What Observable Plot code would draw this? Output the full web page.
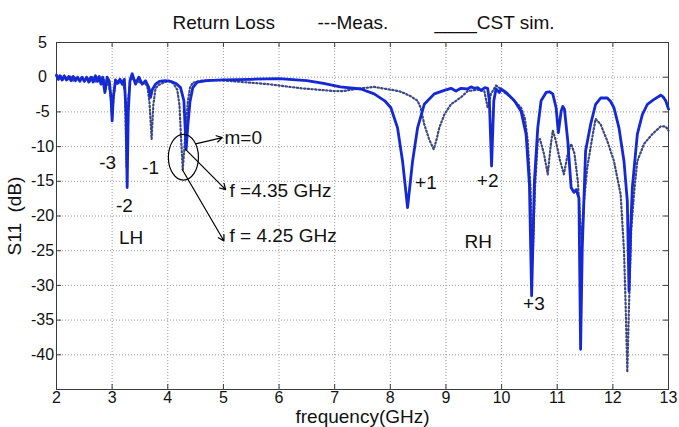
<!DOCTYPE html>
<html><head><meta charset="utf-8">
<script src="https://cdn.jsdelivr.net/npm/d3@7"></script>
<script src="https://cdn.jsdelivr.net/npm/@observablehq/plot@0.6"></script>
<style>
html,body{margin:0;padding:0;background:#fff;}
</style>
</head><body><div id="chart"></div>
<script>
// ---- Data (frequency in GHz, S11 in dB) ----
const simF = [2.00,2.03,2.06,2.10,2.14,2.18,2.22,2.26,2.30,2.34,2.38,2.42,2.46,2.50,2.54,2.58,2.62,2.66,2.70,2.74,2.77,2.80,2.83,2.87,2.91,2.95,2.98,3.00,3.02,3.06,3.10,3.14,3.18,3.22,3.25,3.27,3.29,3.32,3.36,3.42,3.48,3.54,3.60,3.66,3.69,3.72,3.78,3.85,3.95,4.05,4.15,4.23,4.29,4.33,4.36,4.40,4.45,4.53,4.70,5.00,5.50,6.00,6.50,6.80,7.10,7.47,7.71,7.90,8.01,8.13,8.22,8.31,8.40,8.49,8.61,8.79,8.97,9.09,9.18,9.27,9.39,9.45,9.51,9.57,9.63,9.70,9.75,9.78,9.82,9.86,9.90,9.96,9.99,10.05,10.11,10.23,10.35,10.44,10.50,10.54,10.59,10.65,10.71,10.80,10.86,10.92,10.98,11.02,11.07,11.10,11.13,11.19,11.25,11.30,11.34,11.39,11.42,11.45,11.51,11.60,11.69,11.78,11.90,11.96,12.02,12.11,12.20,12.26,12.29,12.32,12.35,12.44,12.53,12.62,12.74,12.86,12.90,12.95,13.00];
const simDb = [0.3,-0.3,0.2,-0.4,0.2,-0.4,0.1,-0.5,0.1,-0.5,0.0,-0.6,0.0,-0.6,0.0,-0.7,0.0,-0.7,0.2,-0.6,0.1,-1.0,0.0,-2.2,0.0,-0.6,-3.0,-6.3,-3.0,-0.4,-0.9,-0.3,-1.0,-0.3,-5.0,-15.9,-5.0,-0.5,0.5,-1.0,0.0,-1.0,-0.5,-1.5,-2.9,-1.8,-1.0,-0.6,-0.5,-0.6,-0.9,-1.5,-3.4,-10.4,-7.0,-3.5,-1.5,-0.7,-0.5,-0.4,-0.3,-0.2,-0.5,-0.9,-1.4,-1.7,-2.4,-3.4,-4.4,-7.3,-12.1,-18.8,-12.1,-7.3,-3.9,-2.4,-1.9,-1.6,-2.0,-1.6,-1.7,-1.4,-1.6,-1.5,-1.9,-1.5,-1.6,-3.4,-12.8,-3.4,-1.7,-2.2,-1.7,-2.0,-2.4,-3.4,-4.9,-8.2,-15.4,-31.5,-15.0,-7.3,-3.4,-2.2,-2.1,-2.4,-4.4,-8.0,-4.9,-4.2,-4.6,-9.2,-15.9,-16.6,-16.2,-17.4,-39.2,-24.6,-10.6,-6.8,-3.9,-3.0,-3.0,-3.5,-4.4,-7.3,-12.1,-17.9,-30.8,-22.0,-15.9,-8.2,-5.4,-3.9,-3.2,-2.6,-2.8,-3.4,-4.6];

const measF = [2.00,2.04,2.08,2.12,2.16,2.20,2.25,2.30,2.35,2.40,2.45,2.50,2.55,2.60,2.65,2.70,2.75,2.80,2.85,2.88,2.92,2.97,3.00,3.03,3.07,3.12,3.18,3.23,3.26,3.29,3.33,3.38,3.45,3.52,3.58,3.63,3.67,3.71,3.74,3.78,3.84,3.92,4.02,4.10,4.17,4.21,4.24,4.27,4.31,4.36,4.40,4.45,4.60,4.90,5.20,5.50,5.80,6.10,6.40,6.70,7.00,7.15,7.30,7.47,7.60,7.71,7.85,8.01,8.15,8.25,8.38,8.49,8.55,8.61,8.70,8.78,8.83,8.88,8.97,9.09,9.18,9.27,9.39,9.48,9.57,9.69,9.75,9.81,9.90,9.97,10.05,10.15,10.23,10.35,10.42,10.47,10.52,10.56,10.60,10.65,10.69,10.76,10.83,10.88,10.92,10.97,11.05,11.12,11.19,11.25,11.31,11.37,11.41,11.44,11.48,11.54,11.64,11.69,11.78,11.90,12.02,12.14,12.20,12.23,12.26,12.29,12.33,12.39,12.44,12.56,12.71,12.86,12.95,13.00];
const measDb = [0.2,-0.3,0.2,-0.4,0.1,-0.4,0.1,-0.5,0.0,-0.5,0.0,-0.6,0.0,-0.6,0.0,-0.7,0.0,-0.9,-0.2,-1.8,-0.3,-2.5,-5.8,-2.5,-0.5,-0.8,-0.5,-2.0,-13.0,-3.0,-0.3,-0.2,-0.6,-0.8,-0.9,-1.2,-3.5,-8.9,-4.0,-1.6,-1.1,-0.8,-0.5,-0.9,-1.8,-4.0,-9.0,-13.3,-9.0,-3.5,-1.5,-0.8,-0.5,-0.4,-0.6,-0.8,-1.0,-1.3,-1.6,-1.8,-2.0,-2.0,-1.8,-1.6,-1.5,-1.4,-1.6,-1.8,-2.0,-2.3,-2.8,-3.4,-4.5,-6.8,-9.0,-10.4,-9.0,-7.3,-5.4,-3.9,-3.4,-2.9,-2.0,-1.9,-1.8,-2.0,-4.4,-2.4,-1.2,-1.6,-2.2,-2.8,-3.4,-4.4,-6.0,-9.2,-16.0,-26.0,-16.0,-9.2,-8.9,-11.0,-14.0,-10.0,-7.7,-9.0,-12.0,-14.0,-11.0,-9.6,-11.0,-15.0,-20.0,-24.0,-18.0,-13.0,-8.2,-6.0,-6.8,-9.2,-12.1,-16.9,-25.0,-33.0,-42.5,-33.0,-22.0,-15.9,-12.1,-9.6,-8.2,-7.1,-7.1,-7.7];

const xTicks = [2,3,4,5,6,7,8,9,10,11,12,13];
const yTicks = [5,0,-5,-10,-15,-20,-25,-30,-35,-40];

// annotation labels
const annText = ["-3","-2","-1","LH","RH","+1","+2","+3"];
const annF =    [2.92,3.22,3.69,3.34,9.58,8.64,9.75,10.58];
const annDb =   [-12.4,-18.6,-13.1,-23.1,-23.7,-15.2,-15.0,-32.7];
const noteText = ["m=0","f =4.35 GHz","f = 4.25 GHz"];
const noteF =    [5.02,5.11,5.11];
const noteDb =   [-8.7,-16.4,-22.9];
// arrows (from, to) in data units
const arrF1 = [4.50,4.32,4.26];
const arrDb1 = [-9.6,-10.4,-13.3];
const arrF2 = [4.98,5.04,5.01];
const arrDb2 = [-8.7,-16.2,-23.6];
// ellipse around m=0 resonance
const ellF = 4.29, ellDb = -11.6, ellRF = 0.27, ellRDb = 3.3;

const sim = simF.map((f,i)=>({f, db: simDb[i]}));
const meas = measF.map((f,i)=>({f, db: measDb[i]}));
const ann = annText.map((t,i)=>({t, f: annF[i], db: annDb[i]}));
const notes = noteText.map((t,i)=>({t, f: noteF[i], db: noteDb[i]}));
const arrows = arrF1.map((f,i)=>({x1: f, y1: arrDb1[i], x2: arrF2[i], y2: arrDb2[i]}));

const W = 679, H = 427, ML = 56, MR = 11, MT = 42, MB = 38;
const FW = W - ML - MR, FH = H - MT - MB;
const font = "'Liberation Sans', Arial, Helvetica, sans-serif";
const gridStyle = {stroke: "#9a9a9a", strokeOpacity: 1, strokeWidth: 1, strokeDasharray: "1,2"};

const plot = Plot.plot({
  width: W, height: H,
  marginLeft: ML, marginRight: MR, marginTop: MT, marginBottom: MB,
  style: {fontFamily: font, fontSize: "16px", color: "#111", background: "#fff", overflow: "visible"},
  x: {domain: [2, 13]},
  y: {domain: [-45, 5]},
  marks: [
    Plot.gridX(xTicks, gridStyle),
    Plot.gridY(yTicks, gridStyle),
    Plot.frame({stroke: "#3a3a3a", strokeWidth: 1}),
    // inward tick marks on all four sides
    Plot.ruleX(xTicks, {x: d => d, insetTop: FH - 5, stroke: "#3a3a3a"}),
    Plot.ruleX(xTicks, {x: d => d, insetBottom: FH - 5, stroke: "#3a3a3a"}),
    Plot.ruleY(yTicks, {y: d => d, insetRight: FW - 5, stroke: "#3a3a3a"}),
    Plot.ruleY(yTicks, {y: d => d, insetLeft: FW - 5, stroke: "#3a3a3a"}),
    Plot.axisX(xTicks, {anchor: "bottom", tickSize: 0, tickPadding: 2, label: null, fontSize: 16, tickFormat: d => String(d)}),
    Plot.axisY(yTicks, {anchor: "left", tickSize: 0, tickPadding: 14, textAnchor: "middle", label: null, fontSize: 16, tickFormat: d => String(d)}),
    // curves
    Plot.line(meas, {x: "f", y: "db", stroke: "#3c4782", strokeWidth: 2.2, strokeDasharray: "1.3,2.4"}),
    Plot.line(sim, {x: "f", y: "db", stroke: "#1428d6", strokeWidth: 2.8, strokeLinejoin: "round"}),
    // annotations
    Plot.arrow(arrows, {x1: "x1", y1: "y1", x2: "x2", y2: "y2", stroke: "#000", strokeWidth: 1.2, headLength: 8}),
    Plot.text(ann, {x: "f", y: "db", text: "t", fontSize: 19, fill: "#111", textAnchor: "middle", lineAnchor: "middle"}),
    Plot.text(notes, {x: "f", y: "db", text: "t", fontSize: 19, fill: "#111", textAnchor: "start", lineAnchor: "middle"}),
    // title & legend line
    Plot.text(["Return Loss"], {frameAnchor: "top-left", dx: 116, dy: -14, textAnchor: "start", lineAnchor: "bottom", fontSize: 19, fill: "#111"}),
    Plot.text(["---Meas."], {frameAnchor: "top-left", dx: 261, dy: -14, textAnchor: "start", lineAnchor: "bottom", fontSize: 19, fill: "#111"}),
    Plot.text(["____CST sim."], {frameAnchor: "top-left", dx: 378, dy: -14, textAnchor: "start", lineAnchor: "bottom", fontSize: 19, fill: "#111"}),
    // axis labels
    Plot.text(["frequency(GHz)"], {frameAnchor: "bottom", dy: 33, textAnchor: "middle", lineAnchor: "bottom", fontSize: 19, fill: "#111"}),
    Plot.text(["S11  (dB)"], {frameAnchor: "left", dx: -42, rotate: -90, textAnchor: "middle", lineAnchor: "middle", fontSize: 19, fill: "#111"})
  ]
});

// ellipse annotation drawn with the plot's own scales
const sx = plot.scale("x"), sy = plot.scale("y");
const cx = sx.apply(ellF), cy = sy.apply(ellDb);
const rx = Math.abs(sx.apply(ellF + ellRF) - cx), ry = Math.abs(sy.apply(ellDb + ellRDb) - cy);
d3.select(plot).append("ellipse")
  .attr("cx", cx).attr("cy", cy).attr("rx", rx).attr("ry", ry)
  .attr("fill", "none").attr("stroke", "#000").attr("stroke-width", 1.2);

document.getElementById("chart").appendChild(plot);
</script>
</body></html>
